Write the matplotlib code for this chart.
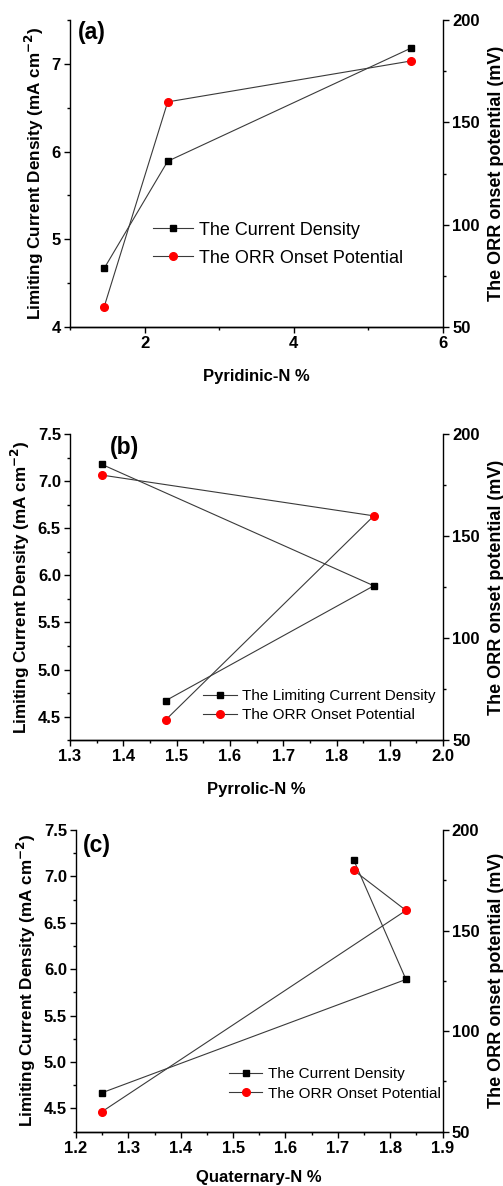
import matplotlib
matplotlib.use("Agg")
import matplotlib.pyplot as plt
from matplotlib.ticker import MultipleLocator, AutoMinorLocator

plt.rcParams['font.family'] = ['Liberation Sans', 'DejaVu Sans']

current_density = [4.67, 5.89, 7.18]
onset_potential = [60, 160, 180]
pyridinic_n = [1.46, 2.31, 5.57]
pyrrolic_n = [1.48, 1.87, 1.36]
quaternary_n = [1.25, 1.83, 1.73]

panels = [
    dict(x=pyridinic_n, xlabel="Pyridinic-N %", tag="(a)", xlim=(1, 6), xmajor=2, ylim=(4, 7.5),
         ymajor=1, yfmt="{:.0f}", xfmt="{:.0f}", leg1="The Current Density",
         rect=[0.139, 0.7243, 0.742, 0.2588], tagpos=(0.021, 0.961), legpos=(0.223, 0.27),
         legsize=13, legspace=0.62, xlabelpad=13),
    dict(x=pyrrolic_n, xlabel="Pyrrolic-N %", tag="(b)", xlim=(1.3, 2.0), xmajor=0.1, ylim=(4.25, 7.5),
         ymajor=0.5, yfmt="{:.1f}", xfmt="{:.1f}", leg1="The Limiting Current Density",
         rect=[0.139, 0.376, 0.742, 0.2578], tagpos=(0.107, 0.958), legpos=(0.357, 0.1125),
         legsize=11, legspace=0.35, xlabelpad=13),
    dict(x=quaternary_n, xlabel="Quaternary-N %", tag="(c)", xlim=(1.2, 1.9), xmajor=0.1, ylim=(4.25, 7.5),
         ymajor=0.5, yfmt="{:.1f}", xfmt="{:.1f}", leg1="The Current Density",
         rect=[0.151, 0.0458, 0.729, 0.2544], tagpos=(0.02, 0.950), legpos=(0.417, 0.1585),
         legsize=11, legspace=0.35, xlabelpad=10),
]

fig = plt.figure(figsize=(5.03, 11.86), dpi=100)

for p in panels:
    ax = fig.add_axes(p["rect"])
    ax2 = ax.twinx()
    l1, = ax.plot(p["x"], current_density, color="#3a3a3a", lw=0.8, marker="s", ms=5,
                  mfc="black", mec="black", label=p["leg1"])
    l2, = ax2.plot(p["x"], onset_potential, color="#3a3a3a", lw=0.8, marker="o", ms=5.5,
                   mfc="red", mec="red", label="The ORR Onset Potential")
    ax.set_xlim(*p["xlim"])
    ax.set_ylim(*p["ylim"])
    ax2.set_ylim(50, 200)
    ax.xaxis.set_major_locator(MultipleLocator(p["xmajor"]))
    ax.xaxis.set_minor_locator(AutoMinorLocator(2))
    ax.yaxis.set_major_locator(MultipleLocator(p["ymajor"]))
    ax.yaxis.set_minor_locator(AutoMinorLocator(2))
    ax2.yaxis.set_major_locator(MultipleLocator(50))
    ax2.yaxis.set_minor_locator(AutoMinorLocator(2))
    xt = [t for t in ax.get_xticks() if p["xlim"][0] - 1e-9 <= t <= p["xlim"][1] + 1e-9]
    ax.set_xticks(xt)
    ax.set_xticklabels([p["xfmt"].format(t) for t in xt])
    yt = [t for t in ax.get_yticks() if p["ylim"][0] - 1e-9 <= t <= p["ylim"][1] + 1e-9]
    ax.set_yticks(yt)
    ax.set_yticklabels([p["yfmt"].format(t) for t in yt])
    for a in (ax, ax2):
        a.spines["top"].set_visible(False)
        a.tick_params(which="major", direction="out", length=4, width=1, labelsize=12, pad=2.5)
        a.tick_params(which="minor", direction="out", length=2.2, width=1)
        for s in a.spines.values():
            s.set_linewidth(1.0)
        for lab in a.get_xticklabels() + a.get_yticklabels():
            lab.set_fontweight("bold")
    ax2.spines["left"].set_visible(False)
    ax.spines["right"].set_visible(False)
    ax.set_xlabel(p["xlabel"], fontsize=12, fontweight="bold", labelpad=p["xlabelpad"])
    ax.set_ylabel("Limiting Current Density (mA cm$^{\\mathbf{-2}}$)", fontsize=12.3,
                  fontweight="bold", labelpad=4)
    ax2.set_ylabel("The ORR onset potential (mV)", fontsize=13, fontweight="bold", labelpad=6)
    ax.text(p["tagpos"][0], p["tagpos"][1], p["tag"], transform=ax.transAxes, fontsize=16.5,
            fontweight="bold", va="center", ha="left")
    ax.legend([l1, l2], [l1.get_label(), l2.get_label()], loc="center left",
              bbox_to_anchor=p["legpos"], frameon=False, fontsize=p["legsize"],
              handlelength=2.2, handletextpad=0.35, labelspacing=p["legspace"],
              borderpad=0, borderaxespad=0)

fig.savefig("out.png", dpi=100)
